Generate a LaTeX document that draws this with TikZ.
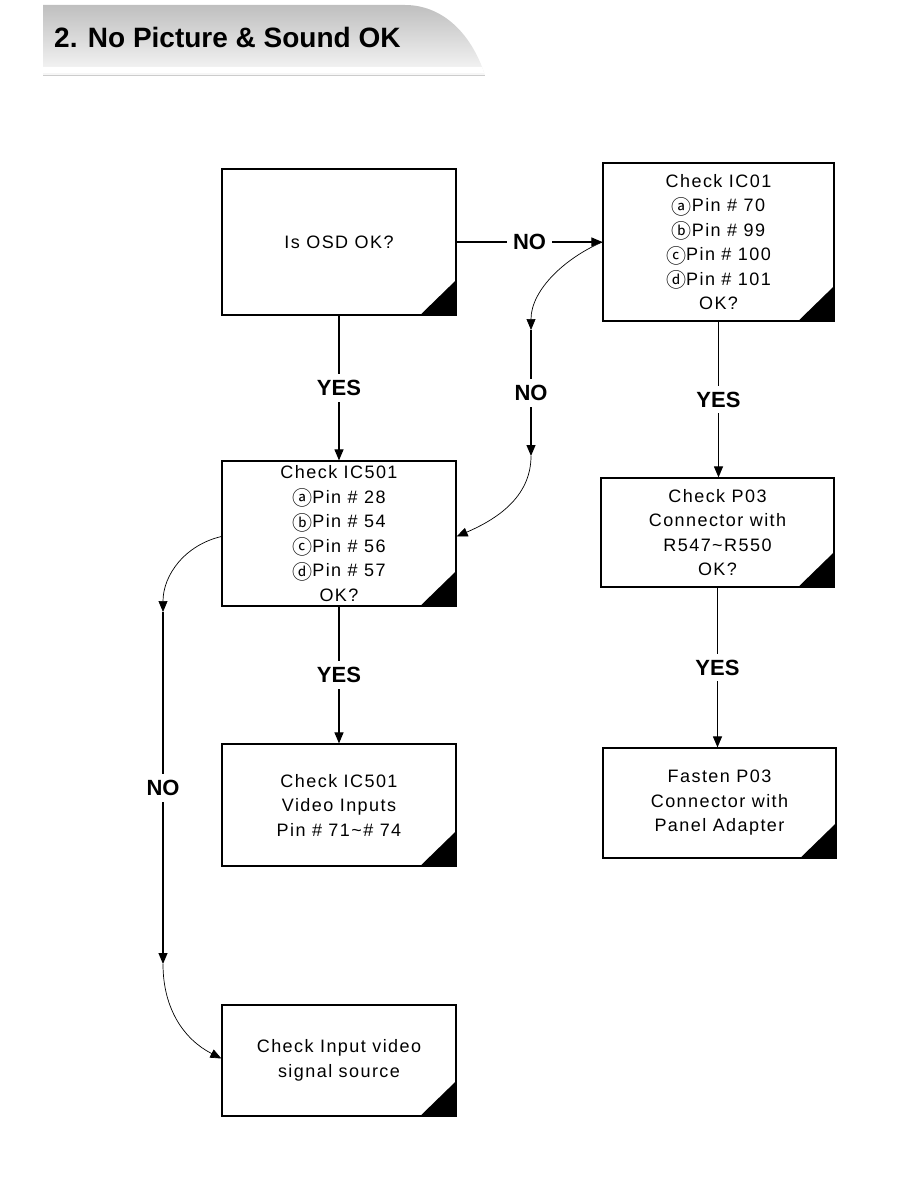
\documentclass[tikz,border=0pt]{standalone}
\usepackage{fontspec}
\setmainfont{Liberation Sans}[LetterSpace=8]
\newfontfamily\labfont{Liberation Sans}
\newfontfamily\circfont{Noto Sans CJK SC}
\newcommand{\circl}[1]{\raisebox{-2.5pt}{\circfont\fontsize{20}{24.5}\selectfont #1}}
\newcommand{\ca}{\circl{ⓐ}}
\newcommand{\cb}{\circl{ⓑ}}
\newcommand{\cc}{\circl{ⓒ}}
\newcommand{\cd}{\circl{ⓓ}}
\usetikzlibrary{arrows.meta}
\tikzset{
  box/.style={draw, line width=1.2pt, fill=white, inner sep=0pt, align=center,
    font=\fontsize{18}{24.5}\selectfont},
  lbl/.style={fill=white, inner sep=6pt, font=\labfont\bfseries\fontsize{22}{22}\selectfont},
  arr/.style={line width=1.1pt, -{Triangle[length=11pt,width=9pt]}},
  carr/.style={line width=0.7pt, -{Triangle[length=11pt,width=9pt]}},
}
\begin{document}
\begin{tikzpicture}[x=1pt,y=-1pt]
\useasboundingbox (0,0) rectangle (918,1188);
% header banner
\shade[top color=gray!50, bottom color=gray!6]
  (43,5) -- (405,5) .. controls (440,5) and (470,30) .. (485,75) -- (43,75) -- cycle;
\fill[white] (43,67) -- (482,67) -- (484,73) -- (43,73) -- cycle;
\draw[gray!40, line width=0.8pt] (43,75) -- (485,75);
\node[anchor=base west, inner sep=0pt, font=\labfont\bfseries\fontsize{28}{28}\selectfont] (title) at (54,48) {2. No Picture \& Sound OK};

% boxes
\node[box, minimum width=234, minimum height=146] (A) at (339,242) {Is OSD OK?};
\node[box, minimum width=231, minimum height=158] (B) at (718.5,242) {Check IC01\\\ca Pin \# 70\\\cb Pin \# 99\\\cc Pin \# 100\\\cd Pin \# 101\\OK?};
\node[box, minimum width=234, minimum height=145] (C) at (339,533.5) {Check IC501\\\ca Pin \# 28\\\cb Pin \# 54\\\cc Pin \# 56\\\cd Pin \# 57\\OK?};
\node[box, minimum width=233, minimum height=109] (D) at (717.5,532.5) {Check P03\\Connector with\\R547\textasciitilde R550\\OK?};
\node[box, minimum width=234, minimum height=122] (E) at (339,805) {Check IC501\\Video Inputs\\Pin \# 71\textasciitilde \# 74};
\node[box, minimum width=233, minimum height=110] (F) at (719.5,803) {Fasten P03\\Connector with\\Panel Adapter};
\node[box, minimum width=234, minimum height=111] (G) at (339,1060.5) {Check Input video\\signal source};

\foreach \n in {A,B,C,D,E,F,G}
  \fill (\n.south east) -- ++(-37,0) -- ++(37,-36) -- cycle;

% straight connectors
\draw[arr] (A.east) -- node[lbl] {NO} (B.west);
\draw[arr] (A.south) -- node[lbl] {YES} (C.north);
\draw[arr] (B.south) -- node[lbl] {YES} (B.south |- D.north);
\draw[arr] (C.south) -- node[lbl] {YES} (E.north);
\draw[arr] (D.south) -- node[lbl] {YES} (D.south |- F.north);

% curved NO from B to C
\coordinate (p1) at (531,330);
\coordinate (p2) at (531,456);
\coordinate (ce) at ([yshift=-3]C.east);
\draw[carr] (B.west) .. controls (565,258) and (531,290) .. (p1);
\draw[arr] (p1) -- node[lbl, pos=0.5] {NO} (p2);
\draw[carr] (p2) .. controls (531,498) and (495,520) .. (ce);

% curved NO from C to G
\coordinate (q1) at (163,612);
\coordinate (q2) at (163,964);
\coordinate (cw) at ([yshift=-3]C.west);
\coordinate (gw) at ([yshift=2]G.west);
\draw[carr] (cw) .. controls (185,545) and (163,575) .. (q1);
\draw[arr] (q1) -- node[lbl, pos=0.5] {NO} (q2);
\draw[carr] (q2) .. controls (163,1010) and (185,1040) .. (gw);
\end{tikzpicture}
\end{document}
